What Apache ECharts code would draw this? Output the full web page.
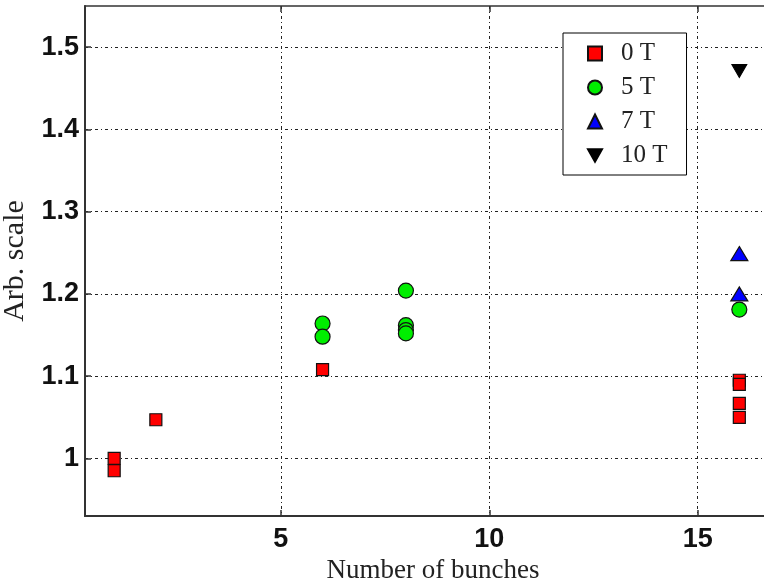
<!DOCTYPE html>
<html>
<head>
    <meta charset="utf-8">
    <title>Arb. scale vs Number of bunches</title>
    <script src="https://cdn.jsdelivr.net/npm/echarts@6/dist/echarts.min.js"></script>
    <style>
        html, body { margin: 0; padding: 0; background: #fff; overflow: hidden; }
        #chart { width: 764px; height: 579px; }
    </style>
</head>
<body>
<div id="chart"></div>
<script type="text/javascript">
    // data
    var bunches0T = [1, 1, 2, 6, 16, 16, 16, 16];
    var scale0T   = [1.000, 0.985, 1.047, 1.108, 1.095, 1.090, 1.067, 1.050];
    var bunches5T = [6, 6, 8, 8, 8, 8, 16];
    var scale5T   = [1.164, 1.148, 1.204, 1.162, 1.156, 1.152, 1.181];
    var bunches7T = [16, 16];
    var scale7T   = [1.249, 1.200];
    var bunches10T = [16];
    var scale10T   = [1.471];

    var xTicks = [5, 10, 15];
    var yTicks = [1, 1.1, 1.2, 1.3, 1.4, 1.5];
    var seriesNames = ['0 T', '5 T', '7 T', '10 T'];

    function pairs(xs, ys) {
        return xs.map(function (x, i) { return [x, ys[i]]; });
    }

    var gridDash = [3, 3, 1, 3];
    var downTri = 'path://M0,0 L10,0 L5,9 Z';

    var myChart = echarts.init(document.getElementById('chart'));
    myChart.setOption({
        animation: false,
        grid: {
            left: 85, top: 6, height: 510, width: 696,
            outerBoundsMode: 'none',
            show: true, borderColor: '#333', borderWidth: 1.5
        },
        legend: {
            orient: 'vertical',
            left: 563, top: 33,
            data: seriesNames,
            itemWidth: 14, itemHeight: 14, itemGap: 9,
            padding: [8, 19, 7, 24],
            backgroundColor: '#fff',
            borderColor: '#000', borderWidth: 1,
            textStyle: { fontFamily: 'Liberation Serif', fontSize: 25, color: '#222', padding: [0, 0, 0, 14] }
        },
        xAxis: [{
            type: 'value', min: 0.3, max: 17,
            name: 'Number of bunches', nameLocation: 'middle', nameGap: 32,
            nameTextStyle: { fontFamily: 'Liberation Serif', fontSize: 27, color: '#222' },
            axisLine: { lineStyle: { color: '#333', width: 2 } },
            axisTick: { inside: true, length: 6, customValues: xTicks, lineStyle: { color: '#333', width: 1.5 } },
            axisLabel: { customValues: xTicks, margin: 10, fontFamily: 'Liberation Sans', fontWeight: 'bold', fontSize: 27, color: '#111' },
            splitLine: { show: true, lineStyle: { color: '#222', type: gridDash, width: 1 } }
        }, {
            type: 'value', min: 0.3, max: 17, position: 'top',
            axisLine: { show: false },
            axisTick: { inside: true, length: 6, customValues: xTicks, lineStyle: { color: '#333', width: 1.5 } },
            axisLabel: { show: false },
            splitLine: { show: false }
        }],
        yAxis: {
            type: 'value', min: 0.93, max: 1.55,
            name: 'Arb. scale', nameLocation: 'middle', nameGap: 52,
            nameTextStyle: { fontFamily: 'Liberation Serif', fontSize: 30, color: '#222' },
            axisLine: { lineStyle: { color: '#333', width: 2 } },
            axisTick: { inside: true, length: 6, customValues: yTicks, lineStyle: { color: '#333', width: 1.5 } },
            axisLabel: { customValues: yTicks, margin: 6, fontFamily: 'Liberation Sans', fontWeight: 'bold', fontSize: 27, color: '#111' },
            splitLine: { show: true, lineStyle: { color: '#222', type: gridDash, width: 1 } }
        },
        series: [{
            name: '0 T', type: 'scatter', symbol: 'rect', symbolSize: 12,
            itemStyle: { color: '#ff0000', borderColor: '#111', borderWidth: 1.2, opacity: 1 },
            data: pairs(bunches0T, scale0T)
        }, {
            name: '5 T', type: 'scatter', symbol: 'circle', symbolSize: 15,
            itemStyle: { color: '#00ee00', borderColor: '#111', borderWidth: 1.2, opacity: 1 },
            data: pairs(bunches5T, scale5T)
        }, {
            name: '7 T', type: 'scatter', symbol: 'triangle', symbolSize: [17, 14],
            itemStyle: { color: '#0000ff', borderColor: '#111', borderWidth: 1.2, opacity: 1 },
            data: pairs(bunches7T, scale7T)
        }, {
            name: '10 T', type: 'scatter', symbol: downTri, symbolSize: [15, 13],
            itemStyle: { color: '#000', borderColor: '#000', borderWidth: 1, opacity: 1 },
            data: pairs(bunches10T, scale10T)
        }]
    });
</script>
</body>
</html>
